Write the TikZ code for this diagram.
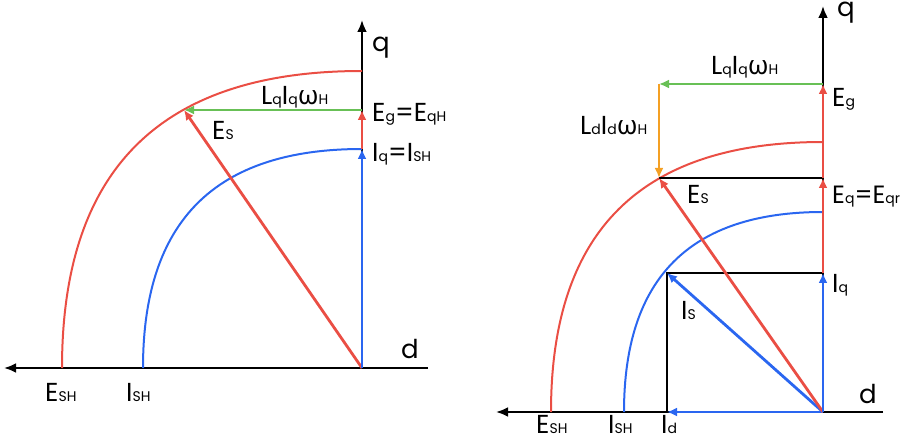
\documentclass[tikz,border=0pt]{standalone}
\usepackage{fontspec}
\setmainfont{Poppins}
\newfontfamily\grk{Noto Sans}
\usetikzlibrary{arrows.meta}
\definecolor{vred}{RGB}{234,78,68}
\definecolor{vblue}{RGB}{42,102,240}
\definecolor{vgreen}{RGB}{104,192,86}
\definecolor{vorange}{RGB}{244,160,36}
\newcommand\sbx[1]{{\fontsize{14}{14}\selectfont #1}}
\newcommand\omg{{\grk ω}}
\tikzset{
  lbl/.style={inner sep=0pt, anchor=base west, font=\fontsize{26}{26}\selectfont},
  axis/.style={line width=2.8pt, -{Latex[length=12pt,width=10pt]}},
  vec/.style={line width=2.8pt, -{Latex[length=10pt,width=9pt]}},
  arcl/.style={line width=2pt},
  boxl/.style={line width=2pt, black},
}
\begin{document}
\begin{tikzpicture}[x=1pt,y=-1pt]
\useasboundingbox (0,0) rectangle (901,443);
% ---------- left diagram ----------
\coordinate (O1) at (362,368);
\coordinate (D1e) at (428,368);
\coordinate (D1t) at (4,368);
\coordinate (Q1t) at (362,20);
\coordinate (ES1) at (62,368);
\coordinate (EQ1) at (362,71);
\coordinate (IS1) at (143,368);
\coordinate (IQ1) at (362,149);
\coordinate (EG1) at (362,110);
\coordinate (ESp1) at (184,110);
\draw[axis] (D1e) -- (D1t);
\draw[axis] (O1) -- (Q1t);
\draw[arcl, vred] (ES1) .. controls (62,169) and (161,71) .. (EQ1);
\draw[arcl, vblue] (IS1) .. controls (143,221) and (215,149) .. (IQ1);
\draw[vec, vgreen] (EG1) -- (ESp1);
\draw[vec, vred] (O1) -- (ESp1);
\draw[vec, vblue] (O1) -- (IQ1);
\draw[vec, vred] (IQ1) -- (EG1);
\node[lbl] (q1) at (372,52) {q};
\node[lbl] (d1) at (401,358) {d};
\node[lbl] (eg1) at (372,122) {E\sbx{g}=E\sbx{qH}};
\node[lbl] (iq1) at (372,162) {I\sbx{q}=I\sbx{SH}};
\node[lbl] (es1) at (212,140) {E\sbx{S}};
\node[lbl] (lq1) at (261,105) {L\sbx{q}I\sbx{q}\omg\sbx{H}};
\node[lbl] (esh1) at (45,401) {E\sbx{SH}};
\node[lbl] (ish1) at (126,401) {I\sbx{SH}};
% ---------- right diagram ----------
\coordinate (O2) at (823,412);
\coordinate (D2e) at (883,412);
\coordinate (D2t) at (496,412);
\coordinate (Q2t) at (823,6);
\coordinate (ES2) at (551,412);
\coordinate (EQ2) at (823,142);
\coordinate (IS2) at (624,412);
\coordinate (IQa2) at (823,212);
\coordinate (ID2) at (667,412);
\coordinate (IQ2) at (823,273);
\coordinate (ISp2) at (667,273);
\coordinate (EQp2) at (823,178);
\coordinate (EG2) at (823,84);
\coordinate (ESp2) at (659,178);
\coordinate (GE2) at (659,84);
\draw[axis] (D2e) -- (D2t);
\draw[axis] (O2) -- (Q2t);
\draw[arcl, vred] (ES2) .. controls (551,231) and (641,142) .. (EQ2);
\draw[arcl, vblue] (IS2) .. controls (624,278) and (690,212) .. (IQa2);
\draw[boxl] (ID2) -- (ISp2) -- (IQ2);
\draw[boxl] (EQp2) -- (ESp2);
\draw[vec, vblue] (O2) -- (ID2);
\draw[vec, vblue] (O2) -- (ISp2);
\draw[vec, vred] (O2) -- (ESp2);
\draw[vec, vblue] (O2) -- (IQ2);
\draw[vec, vred] (IQ2) -- (EQp2);
\draw[vec, vred] (EQp2) -- (EG2);
\draw[vec, vgreen] (EG2) -- (GE2);
\draw[vec, vorange] (GE2) -- (ESp2);
\node[lbl] (q2) at (837,17) {q};
\node[lbl] (d2) at (859,403) {d};
\node[lbl] (lq2) at (711,75) {L\sbx{q}I\sbx{q}\omg\sbx{H}};
\node[lbl] (eg2) at (832,107) {E\sbx{g}};
\node[lbl] (ld2) at (580,135) {L\sbx{d}I\sbx{d}\omg\sbx{H}};
\node[lbl] (es2) at (687,204) {E\sbx{S}};
\node[lbl, font=\fontsize{25}{25}\selectfont] (eq2) at (832,204) {E\sbx{q}=E\sbx{qr}};
\node[lbl] (iq2) at (832,293) {I\sbx{q}};
\node[lbl] (is2) at (681,319) {I\sbx{S}};
\node[lbl] (esh2) at (536,433) {E\sbx{SH}};
\node[lbl] (ish2) at (608,433) {I\sbx{SH}};
\node[lbl] (id2) at (661,433) {I\sbx{d}};
\end{tikzpicture}
\end{document}
